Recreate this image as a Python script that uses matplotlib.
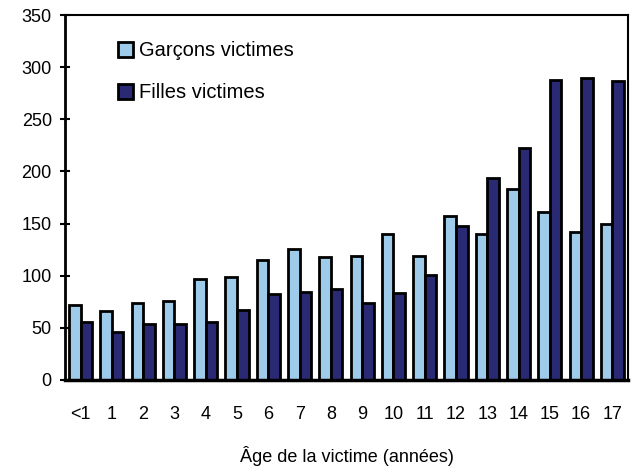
import numpy as np
import matplotlib
matplotlib.use('Agg')
import matplotlib.pyplot as plt

plt.rcParams['font.family'] = ['Liberation Sans', 'DejaVu Sans']

ages = ['<1', '1', '2', '3', '4', '5', '6', '7', '8', '9',
        '10', '11', '12', '13', '14', '15', '16', '17']
garcons = [72, 66, 74, 76, 97, 99, 115, 126, 118, 119,
           140, 119, 157, 140, 183, 161, 142, 150]
filles = [56, 46, 54, 54, 56, 67, 82, 84, 87, 74,
          83, 101, 148, 194, 222, 288, 290, 287]

fig = plt.figure(figsize=(6.31, 4.67), dpi=100)
ax = fig.add_axes([65/631, 1 - 380/467, 563/631, 365/467])

x = np.arange(len(ages))
w = 0.37
ax.bar(x - w/2, garcons, w, color='#9fcbeb', edgecolor='black', linewidth=2,
       label='Garçons victimes')
ax.bar(x + w/2, filles, w, color='#292a73', edgecolor='black', linewidth=2,
       label='Filles victimes')

ax.set_xlim(-0.5, len(ages) - 0.5)
ax.set_ylim(0, 350)
ax.set_yticks(range(0, 351, 50))
ax.set_xticks(x)
ax.set_xticklabels(ages)
ax.tick_params(axis='x', length=0, pad=19, labelsize=13)
ax.tick_params(axis='y', direction='inout', length=7, width=1.5, labelsize=13, pad=6)
for s in ax.spines.values():
    s.set_linewidth(1.5)
ax.spines['bottom'].set_linewidth(2.5)
ax.spines['left'].set_linewidth(2)

ax.set_xlabel('Âge de la victime (années)', fontsize=13, labelpad=16)
leg = ax.legend(loc='upper left', bbox_to_anchor=(0.08, 0.95), frameon=False,
                fontsize=14.5, handlelength=0.75, handleheight=0.75,
                handletextpad=0.3, labelspacing=1.15, borderaxespad=0)

fig.savefig('out.png', dpi=100)
